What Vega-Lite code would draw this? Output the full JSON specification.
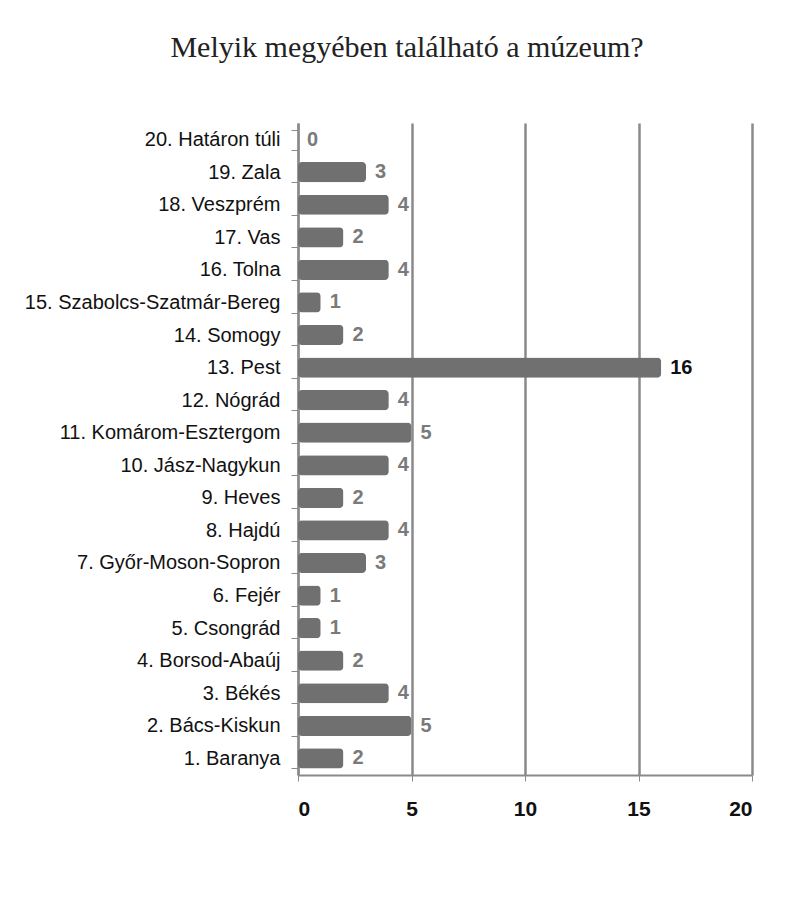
{
  "$schema": "https://vega.github.io/schema/vega-lite/v6.json",
  "width": 454,
  "height": 652,
  "autosize": {"type": "none"},
  "padding": {"left": 298, "top": 123, "right": 40, "bottom": 122},
  "background": "white",
  "title": {
    "text": "Melyik megyében található a múzeum?",
    "font": "Liberation Serif",
    "fontSize": 30,
    "fontWeight": "normal",
    "color": "#222222",
    "anchor": "middle",
    "dx": -118,
    "offset": 50
  },
  "data": {
    "values": [
      {"n": 1, "megye": "1. Baranya", "db": 2},
      {"n": 2, "megye": "2. Bács-Kiskun", "db": 5},
      {"n": 3, "megye": "3. Békés", "db": 4},
      {"n": 4, "megye": "4. Borsod-Abaúj", "db": 2},
      {"n": 5, "megye": "5. Csongrád", "db": 1},
      {"n": 6, "megye": "6. Fejér", "db": 1},
      {"n": 7, "megye": "7. Győr-Moson-Sopron", "db": 3},
      {"n": 8, "megye": "8. Hajdú", "db": 4},
      {"n": 9, "megye": "9. Heves", "db": 2},
      {"n": 10, "megye": "10. Jász-Nagykun", "db": 4},
      {"n": 11, "megye": "11. Komárom-Esztergom", "db": 5},
      {"n": 12, "megye": "12. Nógrád", "db": 4},
      {"n": 13, "megye": "13. Pest", "db": 16},
      {"n": 14, "megye": "14. Somogy", "db": 2},
      {"n": 15, "megye": "15. Szabolcs-Szatmár-Bereg", "db": 1},
      {"n": 16, "megye": "16. Tolna", "db": 4},
      {"n": 17, "megye": "17. Vas", "db": 2},
      {"n": 18, "megye": "18. Veszprém", "db": 4},
      {"n": 19, "megye": "19. Zala", "db": 3},
      {"n": 20, "megye": "20. Határon túli", "db": 0}
    ]
  },
  "encoding": {
    "y": {
      "field": "megye",
      "type": "nominal",
      "sort": {"field": "n", "order": "descending"},
      "scale": {"paddingInner": 0.38, "paddingOuter": 0.2},
      "axis": {
        "title": null,
        "labelFont": "Liberation Sans",
        "labelFontSize": 20,
        "labelLimit": 320,
        "labelColor": "#111111",
        "labelPadding": 11,
        "domainColor": "#8a8a8a",
        "domainWidth": 2,
        "tickColor": "#8a8a8a",
        "tickSize": 7,
        "tickBand": "extent",
        "grid": false
      }
    },
    "x": {
      "field": "db",
      "type": "quantitative",
      "scale": {"domain": [0, 20]},
      "axis": {
        "title": null,
        "values": [0, 5, 10, 15, 20],
        "labelFont": "Liberation Sans",
        "labelFontSize": 21,
        "labelFontWeight": "bold",
        "labelColor": "#111111",
        "labelPadding": 17,
        "domainColor": "#8a8a8a",
        "domainWidth": 2,
        "tickColor": "#8a8a8a",
        "tickSize": 6,
        "grid": true,
        "gridColor": "#8a8a8a",
        "gridWidth": 2.5
      }
    }
  },
  "layer": [
    {
      "mark": {"type": "bar", "color": "#707070", "cornerRadius": 4}
    },
    {
      "mark": {
        "type": "text",
        "align": "left",
        "baseline": "middle",
        "dx": 9,
        "font": "Liberation Sans",
        "fontSize": 20,
        "fontWeight": "bold"
      },
      "encoding": {
        "text": {"field": "db", "type": "quantitative"},
        "color": {
          "condition": {"test": "datum.db >= 10", "value": "#111111"},
          "value": "#7a7a7a"
        }
      }
    }
  ],
  "config": {
    "view": {"stroke": null}
  }
}
